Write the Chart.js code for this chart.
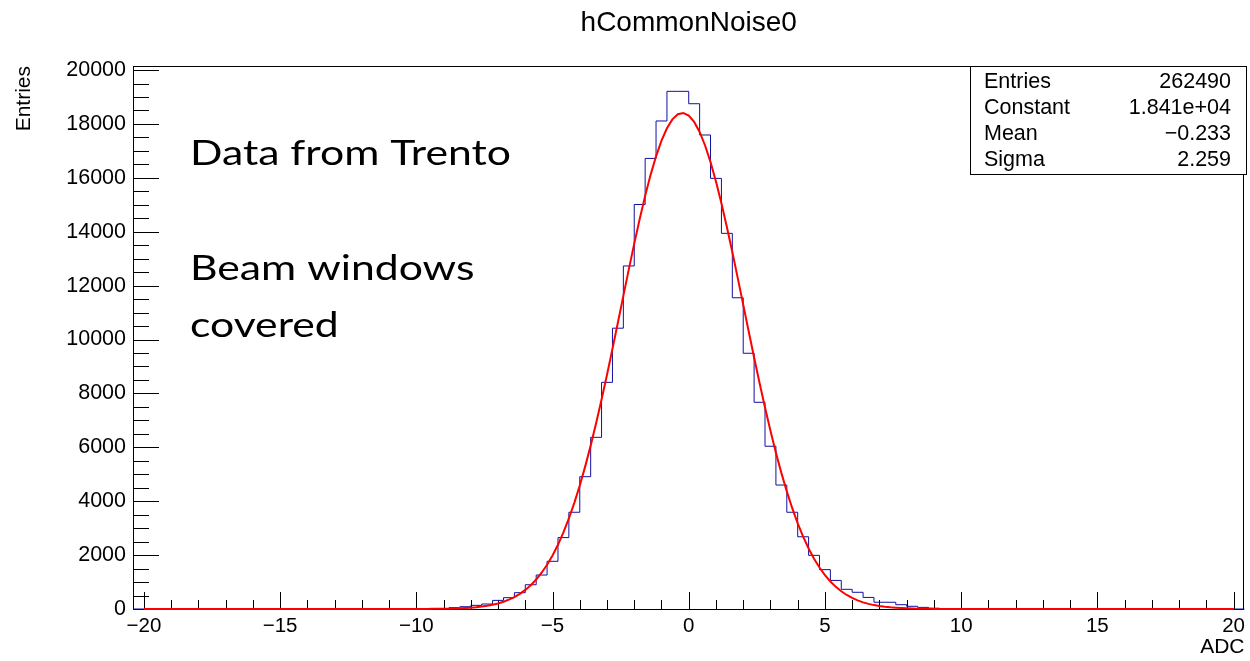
<!DOCTYPE html>
<html>
<head>
<meta charset="utf-8">
<title>hCommonNoise0</title>
<script src="https://cdn.jsdelivr.net/npm/chart.js@4.4.1/dist/chart.umd.min.js"></script>
<style>
  body { margin: 0; background: #fff; }
  #wrap { width: 1250px; height: 661px; }
</style>
</head>
<body>
<div id="wrap"><canvas id="noise-plot" width="1250" height="661"></canvas></div>
<script>
// hCommonNoise0 histogram, low edge of each 0.4 ADC bin and its content
const binLowEdges = [-10.0, -9.6, -9.2, -8.8, -8.4, -8.0, -7.6, -7.2, -6.8, -6.4, -6.0, -5.6, -5.2, -4.8, -4.4,
    -4.0, -3.6, -3.2, -2.8, -2.4, -2.0, -1.6, -1.2, -0.8, -0.4, 0.0, 0.4, 0.8, 1.2, 1.6, 2.0, 2.4, 2.8,
    3.2, 3.6, 4.0, 4.4, 4.8, 5.2, 5.6, 6.0, 6.4, 6.8, 7.2, 7.6, 8.0, 8.4, 8.8, 9.2];
const binCounts = [5, 10, 20, 50, 85, 135, 185, 320, 420, 605, 900, 1260, 1770, 2650, 3590,
    4910, 6370, 8410, 10420, 12730, 15010, 16720, 18110, 19210, 19210, 18750, 17590, 15980, 13940, 11550, 9490, 7670, 6040,
    4600, 3590, 2680, 1990, 1460, 1060, 730, 620, 430, 250, 250, 160, 100, 60, 30, 15];
const binWidth = 0.4;
const histRange = [-20.4, 20.4];

// gaus fit result
const fitConstant = 18410;
const fitMean = -0.233;
const fitSigma = 2.259;
const fitRange = [-20, 20];
const fitNpx = 200;

const statLabels = ['Entries', 'Constant', 'Mean', 'Sigma'];
const statValues = ['262490', '1.841e+04', '\u22120.233', '2.259'];

const xTickValues = [-20, -15, -10, -5, 0, 5, 10, 15, 20];
const yTickValues = [0, 2000, 4000, 6000, 8000, 10000, 12000, 14000, 16000, 18000, 20000];
const noteLines = [['Data from Trento', 165], ['Beam windows', 280], ['covered', 337]];

const FONT = "'Liberation Sans', Arial, Helvetica, sans-serif";

function hist_points() {
    let pts = [{ x: histRange[0], y: 0 }];
    for (let i = 0; i < binLowEdges.length; i++) {
        pts.push({ x: binLowEdges[i], y: binCounts[i] });
    }
    pts.push({ x: binLowEdges[binLowEdges.length - 1] + binWidth, y: 0 });
    pts.push({ x: histRange[1], y: 0 });
    return pts;
}

function fit_points() {
    let pts = [];
    let step = (fitRange[1] - fitRange[0]) / fitNpx;
    for (let i = 0; i <= fitNpx; i++) {
        let x = fitRange[0] + i * step;
        let t = (x - fitMean) / fitSigma;
        pts.push({ x: x, y: fitConstant * Math.exp(-0.5 * t * t) });
    }
    return pts;
}

function minus_label(v) {
    return v < 0 ? '\u2212' + Math.abs(v) : String(v);
}

// frame, ticks pointing into the pad, title, stats box and the text notes
const padDecor = {
    id: 'padDecor',
    beforeDatasetsDraw(chart) {
        let ctx = chart.ctx;
        let a = chart.chartArea;
        let xs = chart.scales.x, ys = chart.scales.y;
        ctx.save();
        ctx.strokeStyle = '#000';
        ctx.lineWidth = 1;
        ctx.strokeRect(Math.round(a.left) + 0.5, Math.round(a.top) + 0.5,
            Math.round(a.right - a.left) - 1, Math.round(a.bottom - a.top));
        ctx.beginPath();
        for (let v = -20; v <= 20; v += 1) {
            let px = Math.round(xs.getPixelForValue(v)) + 0.5;
            let len = (v % 5 === 0) ? 17 : 9;
            ctx.moveTo(px, a.bottom);
            ctx.lineTo(px, a.bottom - len);
        }
        for (let v = 0; v <= 20000; v += 500) {
            let py = Math.round(ys.getPixelForValue(v)) + 0.5;
            let len = (v % 2000 === 0) ? 26 : 16;
            ctx.moveTo(a.left, py);
            ctx.lineTo(a.left + len, py);
        }
        ctx.stroke();

        // histogram title, centred over the pad
        ctx.fillStyle = '#000';
        ctx.font = '28px ' + FONT;
        ctx.textAlign = 'center';
        ctx.textBaseline = 'alphabetic';
        ctx.fillText('hCommonNoise0', (a.left + a.right) / 2, 31);
        ctx.restore();
    },
    afterDraw(chart) {
        let ctx = chart.ctx;
        ctx.save();
        // stats box
        let bx = 970.5, by = 66.5, bw = 276, bh = 108;
        ctx.fillStyle = '#fff';
        ctx.fillRect(bx, by, bw, bh);
        ctx.strokeStyle = '#000';
        ctx.lineWidth = 1;
        ctx.strokeRect(bx, by, bw, bh);
        ctx.fillStyle = '#000';
        ctx.font = '21.5px ' + FONT;
        ctx.textBaseline = 'alphabetic';
        for (let i = 0; i < statLabels.length; i++) {
            let yb = 88 + i * 26;
            ctx.textAlign = 'left';
            ctx.fillText(statLabels[i], 984, yb);
            ctx.textAlign = 'right';
            ctx.fillText(statValues[i], 1231, yb);
        }
        // notes, widened a little like the slide text
        ctx.textAlign = 'left';
        ctx.font = "35px Lato, 'Open Sans', sans-serif";
        let sx = 321 / ctx.measureText(noteLines[0][0]).width;
        noteLines.forEach(n => {
            ctx.save();
            ctx.translate(190, n[1]);
            ctx.scale(sx, 1);
            ctx.fillText(n[0], 0, 0);
            ctx.restore();
        });
        ctx.restore();
    }
};

let ctx = document.getElementById('noise-plot');
var chart = new Chart(ctx, {
    type: 'line',
    data: {
        datasets: [
            {
                label: 'gaus',
                data: fit_points(),
                borderColor: '#ff0000',
                borderWidth: 2,
                pointRadius: 0,
                tension: 0,
                fill: false,
                clip: false,
                order: 0
            },
            {
                label: 'hCommonNoise0',
                data: hist_points(),
                borderColor: '#1010a0',
                borderWidth: 1,
                pointRadius: 0,
                stepped: 'before',
                fill: false,
                clip: false,
                order: 1
            }
        ]
    },
    options: {
        responsive: false,
        animation: false,
        events: [],
        layout: { padding: { left: 0, right: 3, top: 66, bottom: 0 } },
        scales: {
            x: {
                type: 'linear',
                min: histRange[0],
                max: histRange[1],
                grid: { display: false, drawTicks: false },
                border: { display: false },
                afterBuildTicks: (s) => { s.ticks = xTickValues.map(v => ({ value: v })); },
                afterFit: (s) => { s.height = 52; },
                ticks: {
                    autoSkip: false,
                    maxRotation: 0,
                    padding: 5,
                    color: '#000',
                    font: { family: FONT, size: 20.5 },
                    callback: (v) => minus_label(v)
                },
                title: {
                    display: true,
                    text: 'ADC',
                    align: 'end',
                    color: '#000',
                    font: { family: FONT, size: 21 },
                    padding: { top: 0, bottom: 1 }
                }
            },
            y: {
                type: 'linear',
                min: 0,
                max: 20150,
                grid: { display: false, drawTicks: false },
                border: { display: false },
                afterBuildTicks: (s) => { s.ticks = yTickValues.map(v => ({ value: v })); },
                afterFit: (s) => { s.width = 133; },
                ticks: {
                    autoSkip: false,
                    padding: 7,
                    color: '#000',
                    font: { family: FONT, size: 21.5 },
                    callback: (v) => String(v)
                },
                title: {
                    display: true,
                    text: 'Entries',
                    align: 'end',
                    color: '#000',
                    font: { family: FONT, size: 21 },
                    padding: { top: 12, bottom: 0 }
                }
            }
        },
        plugins: {
            legend: { display: false },
            tooltip: { enabled: false },
            title: { display: false }
        }
    },
    plugins: [padDecor]
});
</script>
</body>
</html>
